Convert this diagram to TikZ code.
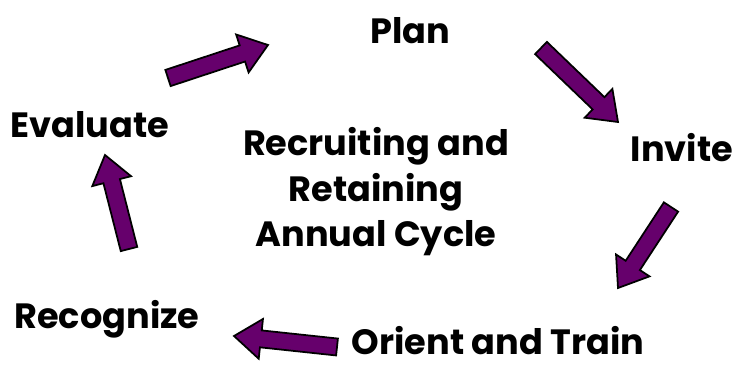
\documentclass[tikz,border=0pt]{standalone}
\usepackage{fontspec}
\setmainfont{Poppins}
\usetikzlibrary{calc}
\definecolor{cyclepurple}{RGB}{102,0,108}
\tikzstyle{stage} = [font=\fontsize{20}{25.9}\selectfont\bfseries, inner sep=0pt, anchor=base]
\tikzstyle{title} = [font=\fontsize{20}{25.9}\selectfont\bfseries, inner sep=0pt, align=center]
\tikzstyle{cyclearrow} = [draw=black, line width=1pt, line join=miter, fill=cyclepurple]
% block arrow: name, tail, tip
\newcommand{\blockarrow}[3]{%
  \coordinate (#1n) at ($(#3)!0.54cm!(#2)$);
  \draw[cyclearrow] ($(#2)!0.17cm!90:(#3)$) -- ($(#1n)!0.17cm!90:(#3)$)
    -- ($(#1n)!0.4cm!90:(#3)$) -- (#3) -- ($(#1n)!0.4cm!-90:(#3)$)
    -- ($(#1n)!0.17cm!-90:(#3)$) -- ($(#2)!0.17cm!-90:(#3)$) -- cycle;}
\begin{document}
\begin{tikzpicture}[x=0.02cm, y=-0.02cm]
  \useasboundingbox (0,0) rectangle (734,365);
  \node [stage] (plan) at (410,43) {Plan};
  \node [stage] (invite) at (682,161) {Invite};
  \node [stage] (train) at (498,354) {Orient and Train};
  \node [stage] (recognize) at (107,328) {Recognize};
  \node [stage] (evaluate) at (90,137) {Evaluate};
  \node [title] (cycle) at (376,192) {Recruiting and\\Retaining\\Annual Cycle};
  % arrow ends
  \coordinate (a1t) at (168,78);  \coordinate (a1h) at (268,45);
  \coordinate (a2t) at (541,48);  \coordinate (a2h) at (618,122);
  \coordinate (a3t) at (671,207); \coordinate (a3h) at (618,288);
  \coordinate (a4t) at (337,347); \coordinate (a4h) at (234,336);
  \coordinate (a5t) at (129,249); \coordinate (a5h) at (105,155);
  % draw arrows
  \blockarrow{a1}{a1t}{a1h}
  \blockarrow{a2}{a2t}{a2h}
  \blockarrow{a3}{a3t}{a3h}
  \blockarrow{a4}{a4t}{a4h}
  \blockarrow{a5}{a5t}{a5h}
\end{tikzpicture}
\end{document}
